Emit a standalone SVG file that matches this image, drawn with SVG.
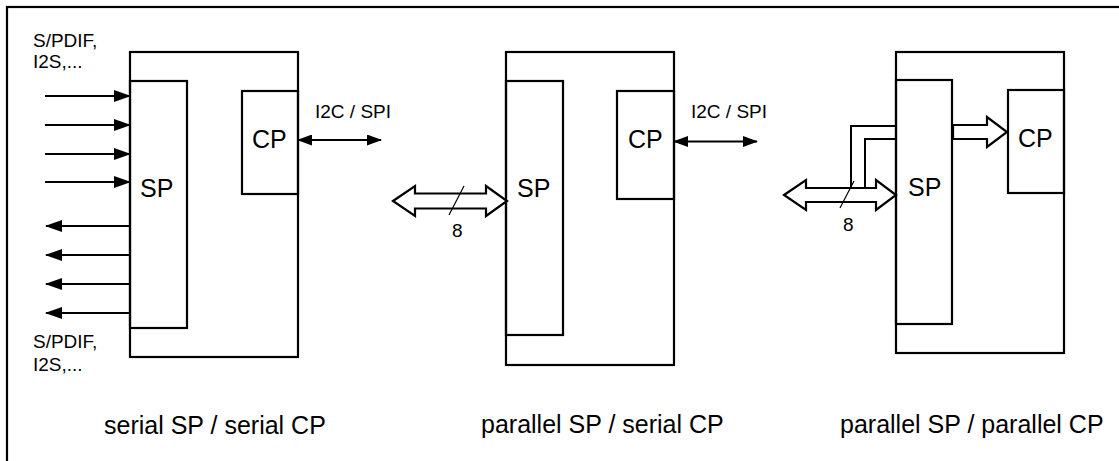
<svg xmlns="http://www.w3.org/2000/svg" width="1119" height="461" viewBox="0 0 1119 461">
<style>
.box{fill:none;stroke:#000;stroke-width:2.2}
.ln{fill:none;stroke:#000;stroke-width:2}
.thin{fill:none;stroke:#000;stroke-width:1.2}
.fat{fill:#fff;stroke:#000;stroke-width:2.2;stroke-linejoin:miter}
.big{font-family:"Liberation Sans",Arial,sans-serif;font-size:25px;fill:#000}
.sm{font-family:"Liberation Sans",Arial,sans-serif;font-size:19px;fill:#000}
</style>
<defs>
<marker id="ah" markerUnits="userSpaceOnUse" markerWidth="17" markerHeight="12" refX="16" refY="6" orient="auto">
<path d="M0,0 L17,6 L0,12 z" fill="#000"/>
</marker>
<marker id="ahs" markerUnits="userSpaceOnUse" markerWidth="15" markerHeight="11" refX="14" refY="5.5" orient="auto-start-reverse">
<path d="M0,0 L15,5.5 L0,11 z" fill="#000"/>
</marker>
</defs>
<rect x="0" y="0" width="1119" height="461" fill="#fff"/>
<rect x="7" y="7" width="1125" height="470" class="box"/>

<g id="panel1">
<g id="p1-outer"><rect x="130" y="52" width="168" height="305" class="box"/></g>
<g id="p1-sp"><rect x="130" y="81" width="57" height="247" class="box"/><text x="140" y="197" class="big">SP</text></g>
<g id="p1-cp"><rect x="242" y="91" width="56" height="103" class="box"/><text x="252" y="148" class="big">CP</text></g>
<text x="33" y="47" class="sm">S/PDIF,</text>
<text x="33" y="68" class="sm">I2S,...</text>
<text x="33" y="348" class="sm">S/PDIF,</text>
<text x="33" y="371" class="sm">I2S,...</text>
<text x="315" y="118" class="sm">I2C / SPI</text>
<text x="104" y="434" class="big">serial SP / serial CP</text>
</g>

<g id="panel2">
<g id="p2-outer"><rect x="506" y="52" width="168" height="313" class="box"/></g>
<g id="p2-sp"><rect x="506" y="81" width="57" height="254" class="box"/><text x="517" y="197" class="big">SP</text></g>
<g id="p2-cp"><rect x="617" y="91" width="57" height="108" class="box"/><text x="628" y="148" class="big">CP</text></g>
<text x="691" y="118" class="sm">I2C / SPI</text>
<text x="452" y="237" class="sm">8</text>
<text x="481" y="433" class="big">parallel SP / serial CP</text>
</g>

<g id="panel3">
<g id="p3-outer"><rect x="896" y="52" width="168" height="301" class="box"/></g>
<g id="p3-sp"><rect x="896" y="80" width="56" height="244" class="box"/><text x="908" y="196" class="big">SP</text></g>
<g id="p3-cp"><rect x="1008" y="90" width="56" height="103" class="box"/><text x="1018" y="147" class="big">CP</text></g>
<text x="843" y="231" class="sm">8</text>
<text x="840" y="433" class="big">parallel SP / parallel CP</text>
</g>

<g id="connectors">
<line x1="45" y1="96" x2="130" y2="96" class="ln" marker-end="url(#ah)"/>
<line x1="45" y1="125" x2="130" y2="125" class="ln" marker-end="url(#ah)"/>
<line x1="45" y1="154" x2="130" y2="154" class="ln" marker-end="url(#ah)"/>
<line x1="45" y1="182" x2="130" y2="182" class="ln" marker-end="url(#ah)"/>
<line x1="130" y1="226" x2="46" y2="226" class="ln" marker-end="url(#ah)"/>
<line x1="130" y1="255" x2="46" y2="255" class="ln" marker-end="url(#ah)"/>
<line x1="130" y1="284" x2="46" y2="284" class="ln" marker-end="url(#ah)"/>
<line x1="130" y1="313" x2="46" y2="313" class="ln" marker-end="url(#ah)"/>
<line x1="298" y1="140" x2="381" y2="140" class="ln" marker-start="url(#ahs)" marker-end="url(#ahs)"/>
<line x1="674" y1="141.5" x2="757" y2="141.5" class="ln" marker-start="url(#ahs)" marker-end="url(#ahs)"/>
<polygon points="393,201 415,186 415,193.5 486,193.5 486,186 507,201 486,216 486,208.5 415,208.5 415,216" class="fat"/>
<line x1="464" y1="186" x2="449" y2="215" class="thin"/>
<polygon points="784,195 806,180 806,188 876,188 876,180 896,195 876,210 876,202 806,202 806,210" class="fat"/>
<polyline points="851,188 851,126 895,126" class="ln"/>
<polyline points="865,188 865,139 895,139" class="ln"/>
<line x1="854" y1="181" x2="840" y2="208" class="thin"/>
<polygon points="953,125 987,125 987,117 1007,132 987,147 987,139 953,139" class="fat"/>
</g>
</svg>
